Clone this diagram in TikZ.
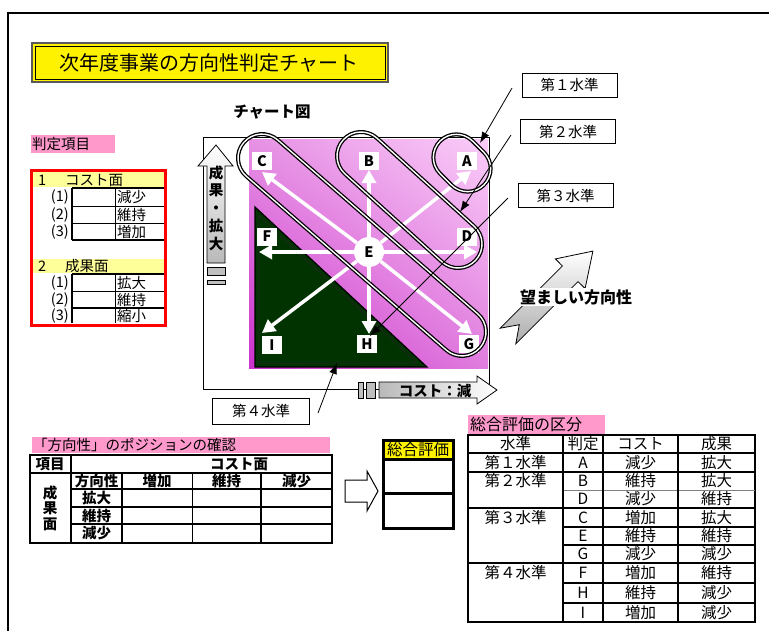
\documentclass[tikz,border=0pt]{standalone}
\usepackage{fontspec}
\setmainfont{Noto Sans CJK JP}
\usetikzlibrary{shadings,arrows.meta,calc}
\definecolor{pinkL}{RGB}{255,153,204}
\definecolor{yelL}{RGB}{255,255,153}
\definecolor{grnD}{RGB}{0,51,0}
\definecolor{pkLL}{RGB}{204,50,204}
\definecolor{pkUR}{RGB}{250,205,248}
\definecolor{pkUL}{RGB}{230,145,228}
\definecolor{pkLR}{RGB}{224,125,222}
\newcommand\fsz[1]{\fontsize{#1}{#1}\selectfont}
\begin{document}
\begin{tikzpicture}[x=1pt,y=-1pt,
  txt/.style={inner sep=0pt,font=\fsz{14.5}},
  btxt/.style={inner sep=0pt,font=\bfseries\fsz{14.5}},
  cell/.style={inner sep=0pt,font=\fsz{15.5}},
  lbl/.style={fill=white,inner sep=0pt,minimum width=20pt,minimum height=18pt,font=\bfseries\fsz{14.5}},
  warrow/.style={white,line width=3.5pt,-{Triangle[width=14pt,length=13pt]}},
  stad/.style={draw=black,line width=1.3pt,double=white,double distance=1.4pt,inner sep=0pt},
  ptr/.style={line width=0.8pt,-{Latex[length=11pt,width=8pt]}},
  lvbox/.style={draw,line width=0.9pt,fill=white,minimum width=95pt,minimum height=24pt,inner sep=0pt,font=\fsz{14.5}},
  thk/.style={line width=1.5pt},
  thn/.style={line width=0.7pt}]
\useasboundingbox (0,0) rectangle (769,630);
% outer frame
\draw[line width=1.5pt] (8,631) -- (8,13) -- (770,13);
% title
\draw[draw=gray!70!black,line width=1.5pt,fill=yellow] (32,43) rectangle (388,82);
\draw[line width=1pt] (35,46) rectangle (385,79);
\node[inner sep=0pt,font=\fsz{20}] (title) at (209,63) {次年度事業の方向性判定チャート};
% chart heading
\node[inner sep=0pt,font=\bfseries\fsz{15.5}] (charthead) at (272,112) {チャート図};
% chart box and background
\draw[line width=1pt] (203,137) rectangle (489,389);
\shade[lower left=pkLL,upper right=pkUR,upper left=pkUL,lower right=pkLR] (249,139) rectangle (488,368);
\draw[fill=grnD,line width=1.2pt] (255,207) -- (255,367) -- (427,367) -- cycle;
\draw[black!85,line width=0.6pt] (259,216) -- (259,363) -- (417,363) -- cycle;
% centre node and arrow tips
\node[circle,fill=white,minimum size=30pt,inner sep=0pt,font=\bfseries\fsz{14.5}] (E) at (369,252) {E};
\coordinate (tC) at (262,172);
\coordinate (tB) at (369,170);
\coordinate (tA) at (471,171);
\coordinate (tF) at (259,252);
\coordinate (tD) at (477,252);
\coordinate (tI) at (262,333);
\coordinate (tH) at (369,334);
\coordinate (tG) at (472,334);
\foreach \t in {tC,tB,tA,tF,tD,tI,tH,tG}{\draw[warrow] (E) -- (\t);}
\node[lbl] (C) at (262,161) {C};
\node[lbl] (B) at (369,161) {B};
\node[lbl] (A) at (467,161) {A};
\node[lbl] (F) at (267,236.5) {F};
\node[lbl] (D) at (467,236.5) {D};
\node[lbl] (I) at (272,345) {I};
\node[lbl] (H) at (367,344) {H};
\node[lbl] (G) at (469,344) {G};
% level rings
\node[stad,rounded corners=24pt,minimum width=313pt,minimum height=48pt,rotate=-41] (ringCG) at (362,245) {};
\node[stad,rounded corners=24pt,minimum width=179pt,minimum height=48pt,rotate=-42.2] (ringBD) at (409.5,200) {};
\node[stad,rounded corners=23pt,minimum width=62pt,minimum height=46pt,rotate=-45] (ringA) at (462,163) {};
% level labels
\node[lvbox] (L1) at (569.5,85) {第１水準};
\node[lvbox] (L2) at (568,131.5) {第２水準};
\node[lvbox] (L3) at (565.5,195.5) {第３水準};
\node[lvbox,minimum width=97pt,minimum height=26pt] (L4) at (261,411) {第４水準};
\coordinate (s1) at (512,88);  \coordinate (e1) at (480,143);
\coordinate (s2) at (511,135); \coordinate (e2) at (460,212);
\coordinate (s3) at (508,198); \coordinate (e3) at (370,336);
\coordinate (s4) at (318,413); \coordinate (e4) at (337,363);
\draw[ptr] (s1) -- (e1);
\draw[ptr] (s2) -- (e2);
\draw[ptr] (s3) -- (e3);
\draw[ptr] (s4) -- (e4);
% vertical axis arrow
\shadedraw[top color=white,bottom color=gray!55,line width=0.8pt]
  (216,145) -- (233,166) -- (225,166) -- (225,263) -- (207,263) -- (207,166) -- (198,166) -- cycle;
\node[align=center,inner sep=0pt,font=\bfseries\fontsize{14.5}{17.8}\selectfont] (yax) at (216,208) {成\\果\\・\\拡\\大};
\filldraw[fill=gray!50,line width=0.8pt] (207,267) rectangle (225,275);
\filldraw[fill=gray!50,line width=0.8pt] (207,280) rectangle (225,284);
% horizontal axis arrow
\filldraw[fill=gray!50,line width=0.8pt] (358,382) rectangle (363,398);
\filldraw[fill=gray!50,line width=0.8pt] (366,382) rectangle (375,398);
\shadedraw[left color=gray!55,right color=white,line width=0.8pt]
  (379,382) -- (477,382) -- (477,376) -- (497,390) -- (477,404) -- (477,398) -- (379,398) -- cycle;
\node[inner sep=0pt,font=\bfseries\fsz{14.5}] (xax) at (435,391) {コスト：減};
% preferred direction arrow
\shadedraw[top color=white,bottom color=gray!65,line width=0.8pt]
  (515.8,343.8) -- (578.0,281.6) -- (585.1,288.6) -- (592.9,251.1) -- (555.4,258.9) -- (562.4,266.0) -- (500.2,328.2) -- (519.3,324.7) -- cycle;
\node[fill=white,inner sep=1.5pt,font=\bfseries\fsz{16}] (wish) at (576,297) {望ましい方向性};
% left panel
\fill[pinkL] (31,135) rectangle (115,153);
\node[txt,anchor=west] (hantei) at (32,144) {判定項目};
\fill[yelL] (33,172) rectangle (164,187);
\fill[yelL] (33,259) rectangle (164,273);
\node[txt,anchor=west] (n1) at (38,180) {1};
\node[txt,anchor=west] (cost) at (65,180) {コスト面};
\node[txt,anchor=west] (n2) at (38,266) {2};
\node[txt,anchor=west] (seika) at (65,266) {成果面};
\draw[thk] (72,188) -- (164,188);
\draw[thk] (72,240) -- (164,240);
\draw[thk] (72,188) -- (72,240);
\draw[thn] (72,206) -- (164,206);
\draw[thn] (72,223) -- (164,223);
\draw[thn] (115,188) -- (115,240);
\draw[thk] (72,274) -- (164,274);
\draw[thk] (72,308) -- (164,308);
\draw[thk] (72,274) -- (72,323);
\draw[thn] (72,291) -- (164,291);
\draw[thn] (115,274) -- (115,323);
\node[txt,anchor=east] (k1) at (69,197) {(1)};
\node[txt,anchor=east] (k2) at (69,214.5) {(2)};
\node[txt,anchor=east] (k3) at (69,231.5) {(3)};
\node[txt,anchor=west] (v1) at (117,197) {減少};
\node[txt,anchor=west] (v2) at (117,214.5) {維持};
\node[txt,anchor=west] (v3) at (117,231.5) {増加};
\node[txt,anchor=east] (m1) at (69,282.5) {(1)};
\node[txt,anchor=east] (m2) at (69,299.5) {(2)};
\node[txt,anchor=east] (m3) at (69,316) {(3)};
\node[txt,anchor=west] (w1) at (117,282.5) {拡大};
\node[txt,anchor=west] (w2) at (117,299.5) {維持};
\node[txt,anchor=west] (w3) at (117,316) {縮小};
\draw[red,line width=3.5pt] (31.5,170.5) rectangle (165.5,325.5);
% position table
\fill[pinkL] (32,437) rectangle (330,453);
\node[inner sep=0pt,font=\fsz{14.5},anchor=west] (postitle) at (33,445) {「方向性」のポジションの確認};
\draw[line width=1.8pt] (30,455) rectangle (332,543);
\draw[thk] (30,473) -- (332,473);
\draw[thk] (71,455) -- (71,543);
\draw[thk] (71,489) -- (332,489);
\draw[thk] (71,507) -- (332,507);
\draw[thk] (71,524) -- (332,524);
\draw[thk] (122,473) -- (122,543);
\draw[line width=1pt] (192,473) -- (192,543);
\draw[thk] (261,473) -- (261,543);
\node[btxt] (p1) at (50,464) {項目};
\node[btxt] (p2) at (239,464) {コスト面};
\node[btxt] (p3) at (96.5,481) {方向性};
\node[btxt] (p4) at (157,481) {増加};
\node[btxt] (p5) at (226.5,481) {維持};
\node[btxt] (p6) at (296.5,481) {減少};
\node[btxt] (p7) at (96.5,498) {拡大};
\node[btxt] (p8) at (96.5,515.5) {維持};
\node[btxt] (p9) at (96.5,533.5) {減少};
\node[align=center,inner sep=0pt,font=\bfseries\fontsize{14.5}{15.5}\selectfont] (p10) at (50,508) {成\\果\\面};
% block arrow
\draw[line width=1pt,fill=white] (345,480) -- (367,480) -- (367,471) -- (378,491) -- (367,511) -- (367,502) -- (345,502) -- cycle;
% overall box
\fill[yellow] (383,440) rectangle (453,459);
\draw[line width=3pt] (383,440) rectangle (453,528);
\draw[line width=3pt] (383,459) -- (453,459);
\draw[line width=3pt] (383,493) -- (453,493);
\node[inner sep=0pt,font=\fsz{15.5}] (sogo) at (418,449.5) {総合評価};
% classification table
\fill[pinkL] (468,415) rectangle (605,434);
\node[inner sep=0pt,font=\fsz{16},anchor=west] (kubun) at (470,424.5) {総合評価の区分};
\draw[line width=2pt] (468,435) rectangle (755,622);
\foreach \yy in {453,472,508,563}{\draw[thk] (468,\yy) -- (755,\yy);}
\foreach \yy in {527,545,583,603}{\draw[thk] (563,\yy) -- (755,\yy);}
\draw[line width=0.8pt,gray] (563,490) -- (755,490);
\draw[line width=2.2pt] (563,435) -- (563,622);
\draw[line width=1.2pt] (603,435) -- (603,622);
\draw[thk] (678,435) -- (678,622);
\node[cell] (h1) at (515.5,444) {水準};
\node[cell] (h2) at (583,444) {判定};
\node[cell] (h3) at (640.5,444) {コスト};
\node[cell] (h4) at (716.5,444) {成果};
\node[cell] (g1) at (515.5,462.5) {第１水準};
\node[cell] (g2) at (515.5,481) {第２水準};
\node[cell] (g3) at (515.5,517.5) {第３水準};
\node[cell] (g4) at (515.5,573) {第４水準};
\node[cell] (r1a) at (583,462.5) {A};  \node[cell] (r1b) at (640.5,462.5) {減少}; \node[cell] (r1c) at (716.5,462.5) {拡大};
\node[cell] (r2a) at (583,481) {B};    \node[cell] (r2b) at (640.5,481) {維持};   \node[cell] (r2c) at (716.5,481) {拡大};
\node[cell] (r3a) at (583,499) {D};    \node[cell] (r3b) at (640.5,499) {減少};   \node[cell] (r3c) at (716.5,499) {維持};
\node[cell] (r4a) at (583,517.5) {C};  \node[cell] (r4b) at (640.5,517.5) {増加}; \node[cell] (r4c) at (716.5,517.5) {拡大};
\node[cell] (r5a) at (583,536) {E};    \node[cell] (r5b) at (640.5,536) {維持};   \node[cell] (r5c) at (716.5,536) {維持};
\node[cell] (r6a) at (583,554) {G};    \node[cell] (r6b) at (640.5,554) {減少};   \node[cell] (r6c) at (716.5,554) {減少};
\node[cell] (r7a) at (583,573) {F};    \node[cell] (r7b) at (640.5,573) {増加};   \node[cell] (r7c) at (716.5,573) {維持};
\node[cell] (r8a) at (583,593) {H};    \node[cell] (r8b) at (640.5,593) {維持};   \node[cell] (r8c) at (716.5,593) {減少};
\node[cell] (r9a) at (583,612.5) {I};  \node[cell] (r9b) at (640.5,612.5) {増加}; \node[cell] (r9c) at (716.5,612.5) {減少};
\end{tikzpicture}
\end{document}
